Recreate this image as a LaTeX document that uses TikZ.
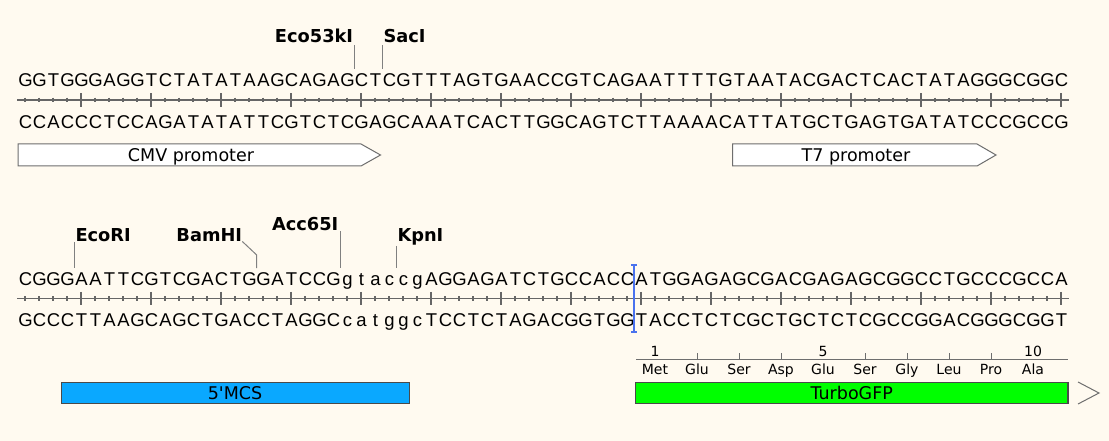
\documentclass[tikz,border=0pt]{standalone}
\usepackage{fontspec}
\setmainfont{DejaVu Sans}
\newfontfamily\seqfont{Liberation Sans}
\definecolor{bg}{HTML}{FFFAF0}
\definecolor{rulergray}{HTML}{666666}
\definecolor{featgray}{HTML}{6E6E6E}
\definecolor{enzgray}{HTML}{808080}
\definecolor{boxgray}{HTML}{4A4A4A}
\definecolor{mcsblue}{HTML}{0AA8FF}
\definecolor{gfpgreen}{HTML}{00FF00}
\definecolor{cursorblue}{HTML}{4A72EE}
\makeatletter
\newcommand\SeqPut[3]{%
  \def\Seq@p{#1}\def\Seq@y{#2}\def\Seq@n{0}\Seq@loop#3\@nil}
\def\Seq@loop#1{%
  \ifx#1\@nil\else
    \pgfmathtruncatemacro\Seq@n{\Seq@n+1}%
    \node[seqch] (\Seq@p\Seq@n) at ({11.5+14*\Seq@n},\Seq@y) {#1};%
    \expandafter\Seq@loop
  \fi}
\makeatother
\begin{document}
\begin{tikzpicture}[x=1pt,y=-1pt,
  seqch/.style={anchor=base,inner sep=0pt,font=\seqfont\fontsize{18.5}{20}\selectfont},
  enz/.style={inner sep=0pt,font=\bfseries\fontsize{17.8}{20}\selectfont},
  enzline/.style={draw=enzgray,line width=1pt},
  rulerline/.style={draw=rulergray,line width=1.8pt},
  tickmark/.style={draw=rulergray,line width=1.1pt},
  featline/.style={draw=featgray,line width=1pt,fill=white},
  feattext/.style={anchor=base,inner sep=0pt,font=\fontsize{17.5}{20}\selectfont},
  boxfeat/.style={draw=boxgray,line width=1.4pt},
  aatext/.style={anchor=base,inner sep=0pt,font=\fontsize{14}{16}\selectfont},
  cursor/.style={draw=cursorblue,line width=2pt}]
\useasboundingbox[fill=bg] (0,0) rectangle (1109,441);

% ---------- row 1 ----------
\SeqPut{ta}{86.7}{GGTGGGAGGTCTATATAAGCAGAGCTCGTTTAGTGAACCGTCAGAATTTTGTAATACGACTCACTATAGGGCGGC}
\SeqPut{ba}{128.2}{CCACCCTCCAGATATATTCGTCTCGAGCAAATCACTTGGCAGTCTTAAAACATTATGCTGAGTGATATCCCGCCG}
\foreach \y in {100,298.5}{
  \draw[rulerline] (17,\y) -- (1069,\y);
  \foreach \i in {1,...,75}{
    \pgfmathsetmacro\h{mod(\i,5)==0 ? 6.7 : 2.4}
    \draw[tickmark] ({11+14*\i},\y-\h) -- ({11+14*\i},\y+\h);
  }
}

\node[enz,anchor=base east] (eco53) at (353.3,43) {Eco53kI};
\coordinate (eco53cut) at (354.3,69.5);
\draw[enzline,shorten <=2pt] (eco53cut |- eco53.south) -- (eco53cut);
\node[enz,anchor=base west] (saci) at (383.3,43) {SacI};
\coordinate (sacicut) at (382.3,69.5);
\draw[enzline,shorten <=2pt] (sacicut |- saci.south) -- (sacicut);

\draw[featline] (18,144) -- (361,144) -- (380.5,155) -- (361,166) -- (18,166) -- cycle;
\node[feattext] (cmv) at (191,161.5) {CMV promoter};
\draw[featline] (732.5,144) -- (977,144) -- (996,155) -- (977,166) -- (732.5,166) -- cycle;
\node[feattext] (t7) at (856,161.5) {T7 promoter};

% ---------- row 2 ----------
\SeqPut{tb}{285.3}{CGGGAATTCGTCGACTGGATCCGgtaccgAGGAGATCTGCCACCATGGAGAGCGACGAGAGCGGCCTGCCCGCCA}
\SeqPut{bb}{326.7}{GCCCTTAAGCAGCTGACCTAGGCcatggcTCCTCTAGACGGTGGTACCTCTCGCTGCTCTCGCCGGACGGGCGGT}

\node[enz,anchor=base west] (ecori) at (75.3,241) {EcoRI};
\coordinate (ecoricut) at (74.3,268);
\draw[enzline,shorten <=1pt] (ecoricut |- ecori.south) -- (ecoricut);
\node[enz,anchor=base east] (bamhi) at (242.3,241) {BamHI};
\coordinate (bambend) at (256.7,255);
\coordinate (bamcut) at (256.7,268);
\draw[enzline] (bamhi.south east) -- (bambend) -- (bamcut);
\node[enz,anchor=base east] (acc65) at (338.5,230) {Acc65I};
\coordinate (acccut) at (340.3,268);
\draw[enzline,shorten <=1pt] (acccut |- acc65.south) -- (acccut);
\node[enz,anchor=base west] (kpni) at (397.3,241) {KpnI};
\coordinate (kpncut) at (396.7,268);
\draw[enzline,shorten <=1pt] (kpncut |- kpni.south) -- (kpncut);

\coordinate (curtop) at (634,264.5);
\coordinate (curbot) at (634,332.3);
\draw[cursor] (curtop) -- (curbot);
\draw[cursor] ([xshift=-2.6pt]curtop) -- ([xshift=2.6pt]curtop);
\draw[cursor] ([xshift=-2.6pt]curbot) -- ([xshift=2.6pt]curbot);

% translation
\draw[draw=featgray,line width=1pt] (636,359.5) -- (1068,359.5);
\foreach \k in {2,3,4,6,7,8,9}{
  \draw[draw=featgray,line width=1pt] ({655+42*(\k-1)},353.3) -- ({655+42*(\k-1)},359.5);
}
\foreach \k in {1,5,10}{
  \node[aatext] (num\k) at ({655+42*(\k-1)},356.6) {\k};
}
\foreach \a [count=\k] in {Met,Glu,Ser,Asp,Glu,Ser,Gly,Leu,Pro,Ala}{
  \node[aatext] (aa\k) at ({655+42*(\k-1)},374.5) {\a};
}

\draw[boxfeat,fill=mcsblue] (61.5,382.5) rectangle (409.5,403.5);
\node[feattext] (mcs) at (235,399.5) {5\textquotesingle MCS};
\draw[boxfeat,fill=gfpgreen] (635.5,382.5) rectangle (1068,403.5);
\node[feattext] (gfp) at (851.7,399.3) {TurboGFP};
\draw[draw=featgray,line width=1pt] (1078,382) -- (1099,393) -- (1078,404);
\end{tikzpicture}
\end{document}
